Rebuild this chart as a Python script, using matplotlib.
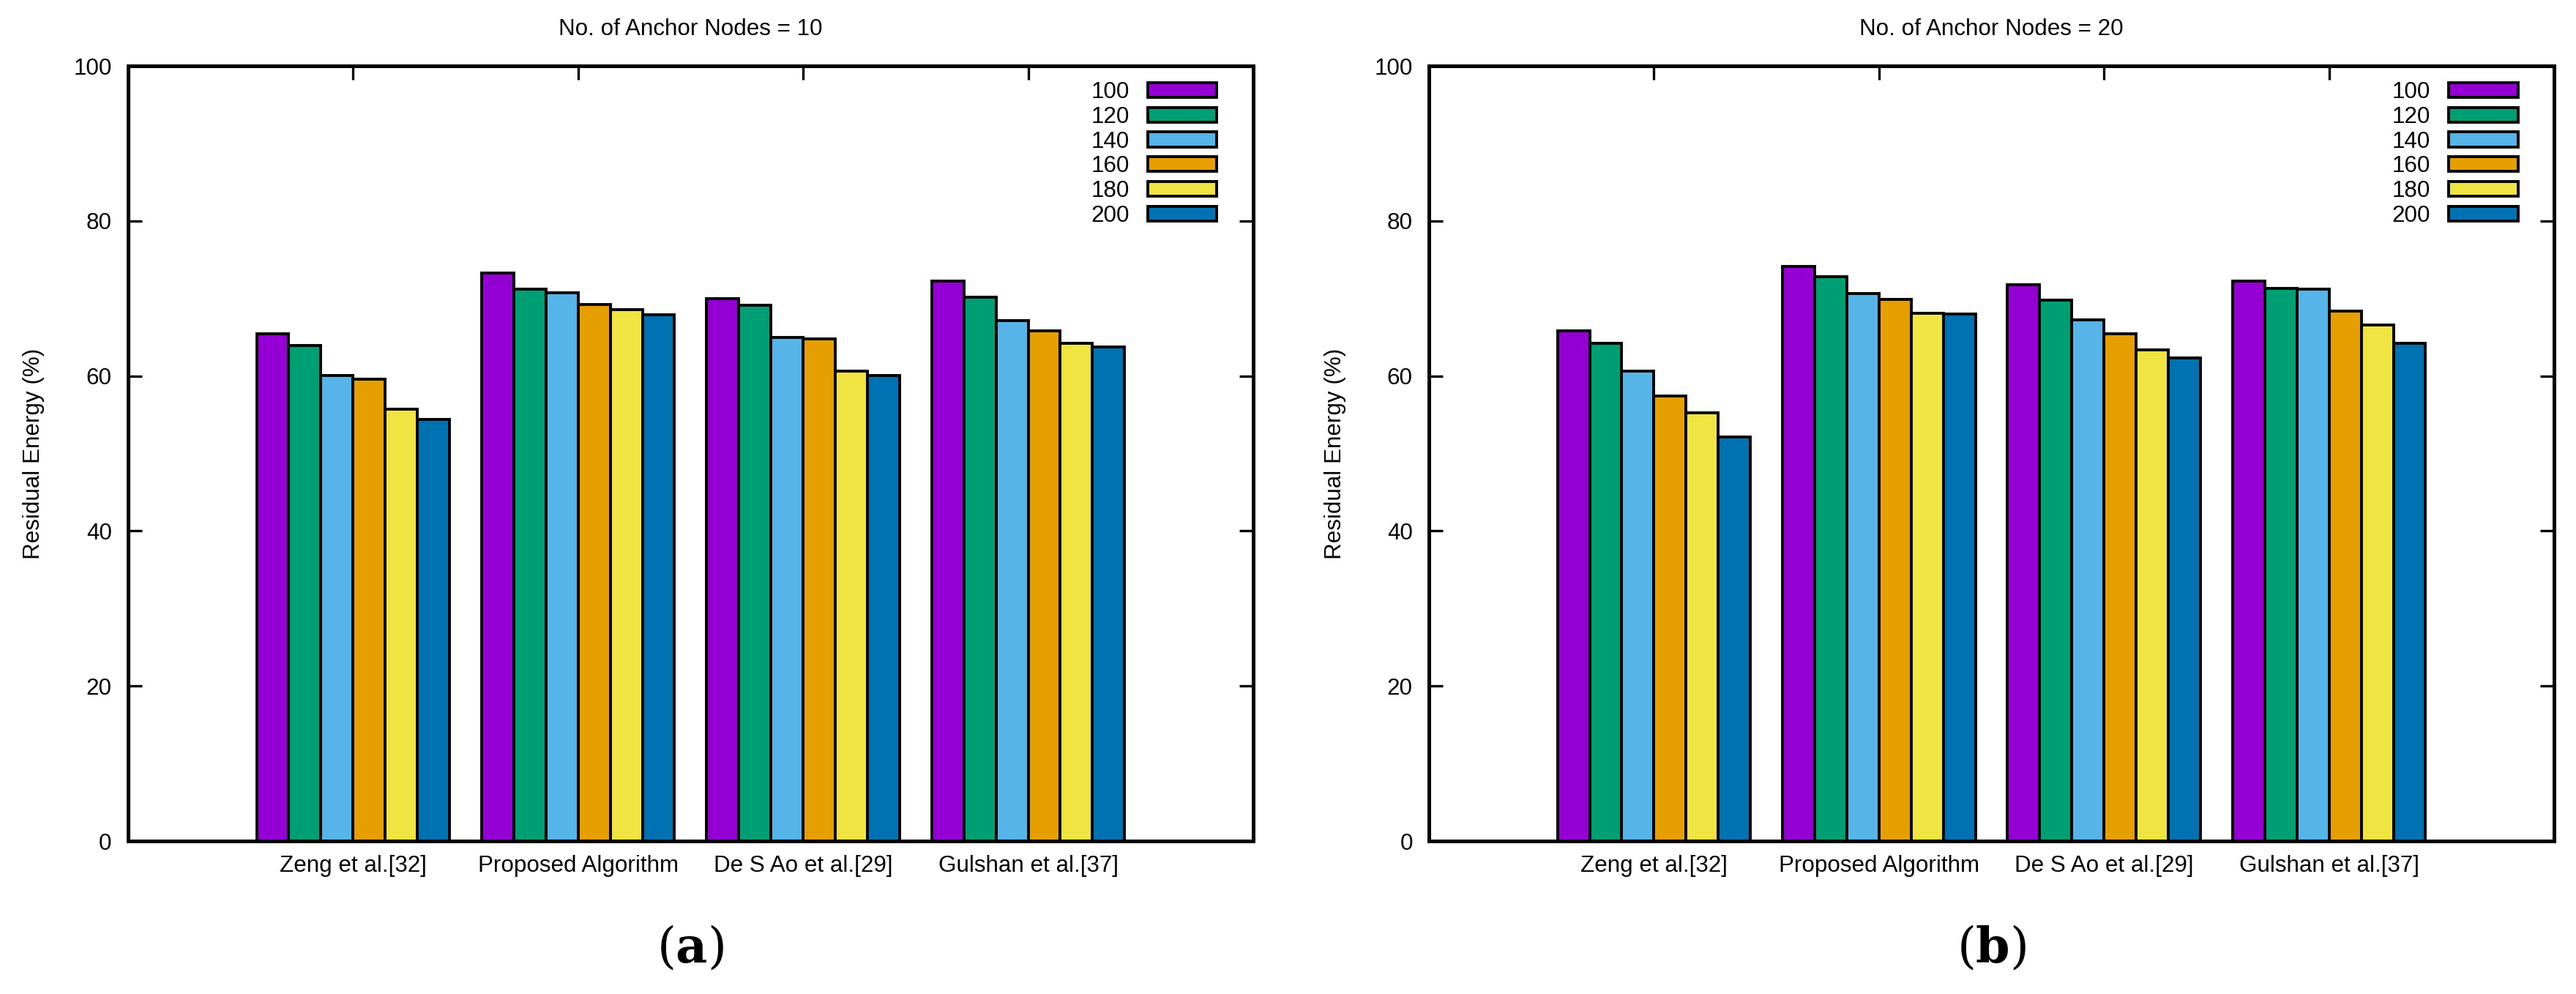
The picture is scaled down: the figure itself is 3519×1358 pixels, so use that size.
import matplotlib
matplotlib.use('Agg')
import matplotlib.pyplot as plt
import numpy as np

plt.rcParams['font.family'] = ['Liberation Sans Narrow', 'Liberation Sans', 'DejaVu Sans']
plt.rcParams['mathtext.fontset'] = 'dejavuserif'

methods = ['Zeng et al.[32]', 'Proposed Algorithm', 'De S Ao et al.[29]', 'Gulshan et al.[37]']
node_counts = ['100', '120', '140', '160', '180', '200']
colors = ['#9400d3', '#009e73', '#56b4e9', '#e69f00', '#f0e442', '#0072b2']

# residual energy (%), rows = node count, cols = method
energy_a = [
    [65.4, 73.3, 70.0, 72.2],
    [63.9, 71.2, 69.1, 70.2],
    [60.1, 70.7, 65.0, 67.1],
    [59.6, 69.2, 64.8, 65.8],
    [55.7, 68.6, 60.6, 64.2],
    [54.4, 67.9, 60.1, 63.7],
]
energy_b = [
    [65.8, 74.1, 71.8, 72.2],
    [64.2, 72.8, 69.8, 71.3],
    [60.6, 70.6, 67.2, 71.2],
    [57.4, 69.9, 65.4, 68.4],
    [55.2, 68.1, 63.4, 66.6],
    [52.1, 68.0, 62.3, 64.2],
]
titles = ['No. of Anchor Nodes = 10', 'No. of Anchor Nodes = 20']
panel_labels = [r'$(\mathbf{a})$', r'$(\mathbf{b})$']

fig = plt.figure(figsize=(17.595, 6.79), dpi=200)
lefts = [0.0497, 0.5547]
fs = 11.3

for k, (data, title) in enumerate(zip([energy_a, energy_b], titles)):
    ax = fig.add_axes([lefts[k], 0.1539, 0.4368, 0.7798])
    x = np.arange(len(methods))
    w = 1.0 / 7
    for i, vals in enumerate(data):
        ax.bar(x + (i - 2.5) * w, vals, width=w, color=colors[i], edgecolor='black',
               linewidth=1.4, label=node_counts[i], zorder=2)
    ax.set_xlim(-1, 4)
    ax.set_ylim(0, 100)
    ax.set_xticks(x)
    ax.set_xticklabels(methods, fontsize=fs)
    ax.set_yticks(np.arange(0, 101, 20))
    ax.tick_params(axis='y', labelsize=fs, direction='in', right=True, length=7, width=1.2, pad=8)
    ax.tick_params(axis='x', direction='in', top=True, length=7, width=1.2, pad=7)
    for s in ax.spines.values():
        s.set_linewidth(1.8)
        s.set_zorder(5)
    ax.set_ylabel('Residual Energy (%)', fontsize=fs, labelpad=14)
    ax.set_title(title, fontsize=fs, pad=15)
    ax.legend(loc='upper right', bbox_to_anchor=(0.978, 0.995), frameon=False,
              markerfirst=False, fontsize=fs, handlelength=3.0, handleheight=0.62,
              labelspacing=0.12, borderpad=0, handletextpad=0.8)
    fig.text(lefts[k] + 0.4368 / 2, 0.045, panel_labels[k], ha='center', va='center', fontsize=24)

fig.savefig('out.png', dpi=200)
